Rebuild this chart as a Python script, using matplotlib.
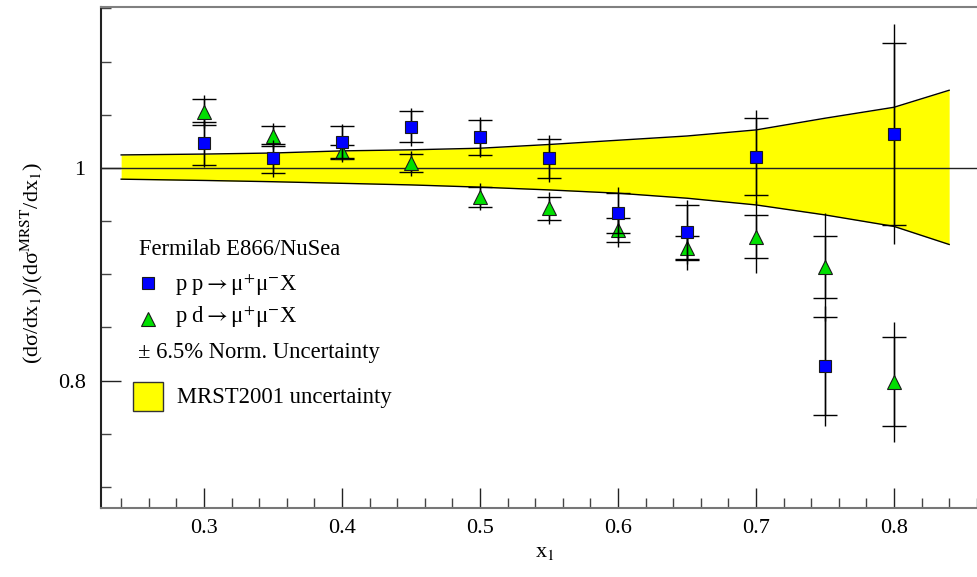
import matplotlib
matplotlib.use('Agg')
import matplotlib.pyplot as plt
from matplotlib.lines import Line2D
from matplotlib.patches import Rectangle
from matplotlib.ticker import MultipleLocator, FixedLocator

plt.rcParams['font.family'] = ['Liberation Serif', 'DejaVu Serif']
plt.rcParams['mathtext.fontset'] = 'stix'

# ---- data ----
x1 = [0.30, 0.35, 0.40, 0.45, 0.50, 0.55, 0.60, 0.65, 0.70, 0.75, 0.80]
pp_ratio = [1.0232, 1.0091, 1.0242, 1.0388, 1.0289, 1.0091, 0.9580, 0.9401, 1.0103, 0.8139, 1.0320]
pp_stat = [0.0204, 0.0136, 0.0148, 0.0146, 0.0164, 0.0185, 0.0188, 0.0254, 0.0362, 0.0461, 0.0858]
pp_total = [0.0223, 0.0173, 0.0172, 0.0179, 0.0188, 0.0219, 0.0239, 0.0301, 0.0442, 0.0564, 0.1034]
pd_ratio = [1.0529, 1.0301, 1.0153, 1.0044, 0.9730, 0.9621, 0.9417, 0.9245, 0.9352, 0.9070, 0.7989]
pd_stat = [0.0122, 0.0091, 0.0066, 0.0085, 0.0094, 0.0110, 0.0113, 0.0113, 0.0202, 0.0291, 0.0418]
pd_total = [0.0157, 0.0119, 0.0094, 0.0117, 0.0129, 0.0150, 0.0160, 0.0204, 0.0338, 0.0508, 0.0564]
band_x = [0.24, 0.30, 0.35, 0.40, 0.45, 0.50, 0.55, 0.60, 0.65, 0.70, 0.75, 0.80, 0.84]
band_up = [1.0122, 1.0130, 1.0140, 1.0160, 1.0170, 1.0185, 1.0220, 1.0260, 1.0300, 1.0357, 1.0467, 1.0570, 1.0730]
band_lo = [0.9894, 0.9882, 0.9870, 0.9855, 0.9840, 0.9819, 0.9793, 0.9762, 0.9715, 0.9652, 0.9558, 0.9450, 0.9280]
x_ticks = [0.3, 0.4, 0.5, 0.6, 0.7, 0.8]
x_tick_labels = ['0.3', '0.4', '0.5', '0.6', '0.7', '0.8']
y_ticks = [0.8, 1.0]
y_tick_labels = ['0.8', '1']

W, H = 978, 577
fig = plt.figure(figsize=(W / 100, H / 100), dpi=100)
ax = fig.add_axes([101 / W, (H - 507.7) / H, (W - 101) / W, (507.7 - 7.3) / H])
ax.set_xlim(0.2254, 0.8609)
ax.set_ylim(0.6805, 1.151)

# band
ax.fill_between(band_x, band_lo, band_up, color='#ffff00', lw=0, zorder=1)
ax.plot(band_x, band_up, color='black', lw=1.0, zorder=2)
ax.plot(band_x, band_lo, color='black', lw=1.0, zorder=2)
ax.axhline(1.0, color='#222222', lw=1.0, zorder=2)

# error bars: line = total, caps = stat
for xv, yv, st, tot, mk, fc, z in [
    (x1, pd_ratio, pd_stat, pd_total, '^', '#00e000', 3),
    (x1, pp_ratio, pp_stat, pp_total, 's', '#0000ff', 5),
]:
    ax.errorbar(xv, yv, yerr=tot, fmt='none', ecolor='black', elinewidth=1.0, capsize=0, zorder=z)
    ax.errorbar(xv, yv, yerr=st, fmt='none', ecolor='black', elinewidth=1.0, capsize=8.5,
                capthick=1.0, zorder=z)
    ax.plot(xv, yv, ls='none', marker=mk, ms=9 if mk == 's' else 10, mfc=fc, mec='#1a1a1a',
            mew=0.8, zorder=z + 1)

# axes styling
ax.spines['right'].set_visible(False)
ax.spines['top'].set_color('#808080')
ax.spines['top'].set_linewidth(1.5)
ax.spines['left'].set_color('#222222')
ax.spines['left'].set_linewidth(1.5)
ax.spines['bottom'].set_color('#777777')
ax.spines['bottom'].set_linewidth(1.5)

ax.xaxis.set_major_locator(FixedLocator(x_ticks))
ax.set_xticklabels(x_tick_labels)
ax.xaxis.set_minor_locator(MultipleLocator(0.02))
ax.yaxis.set_major_locator(FixedLocator(y_ticks))
ax.set_yticklabels(y_tick_labels)
ax.yaxis.set_minor_locator(MultipleLocator(0.05))
ax.tick_params(axis='x', which='major', direction='in', length=14.4, width=1.0, color='#222222',
               labelsize=16, pad=8, top=False)
ax.tick_params(axis='x', which='minor', direction='in', length=7.2, width=1.0, color='#444444', top=False)
ax.tick_params(axis='y', which='major', direction='in', length=14.4, width=1.0, color='#222222',
               labelsize=16, pad=11, right=False)
ax.tick_params(axis='y', which='minor', direction='in', length=7.2, width=1.0, color='#444444', right=False)

fig.text(545 / W, 1 - 553 / H, r'x$_{1}$', fontsize=16, ha='center', va='center')
fig.text(32 / W, 1 - 263 / H, r'(dσ/dx$_{1}$)/(dσ$^{\mathrm{MRST}}$/dx$_{1}$)', fontsize=16,
         rotation=90, ha='center', va='center')

# legend (custom, as in ROOT)
def fp(px, py):
    return (px / W, 1 - py / H)

fs = 16.3
fig.text(*fp(139, 255), 'Fermilab E866/NuSea', fontsize=fs, va='baseline', ha='left')
fig.add_artist(Line2D([148.3 / W], [1 - 283.3 / H], marker='s', ms=8.8, mfc='#0000ff', mec='#1a1a1a',
                      mew=0.8, ls='none'))
fig.text(*fp(175, 291), r'p p$\rightarrow$μ$^{+}$μ$^{-}$X', fontsize=fs, va='baseline', ha='left')
fig.add_artist(Line2D([148.3 / W], [1 - 318.5 / H], marker='^', ms=9.5, mfc='#00e000', mec='#1a1a1a',
                      mew=0.8, ls='none'))
fig.text(*fp(175, 323.3), r'p d$\rightarrow$μ$^{+}$μ$^{-}$X', fontsize=fs, va='baseline', ha='left')
fig.text(*fp(138.3, 358.3), '± 6.5% Norm. Uncertainty', fontsize=fs, va='baseline', ha='left')
fig.add_artist(Rectangle(fp(133.3, 411), 30 / W, 29 / H, facecolor='#ffff00', edgecolor='#333333',
                         lw=1.0, transform=fig.transFigure))
fig.text(*fp(176.7, 403.3), 'MRST2001 uncertainty', fontsize=fs, va='baseline', ha='left')

fig.savefig('out.png', dpi=100)
